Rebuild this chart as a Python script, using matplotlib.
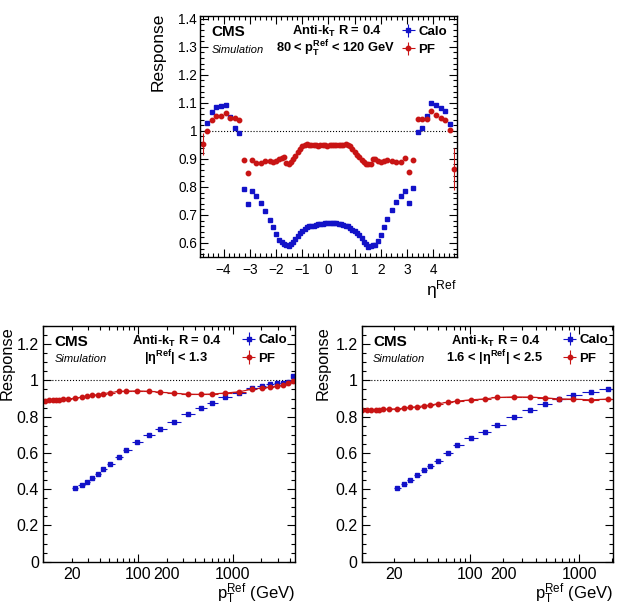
import matplotlib

matplotlib.use("Agg")

import matplotlib.pyplot as plt
import numpy as np
from matplotlib.ticker import FixedLocator, FuncFormatter, LogLocator, MultipleLocator

plt.rcParams["font.family"] = ["Liberation Sans", "DejaVu Sans"]
plt.rcParams["mathtext.fontset"] = "custom"
plt.rcParams["mathtext.rm"] = "Liberation Sans"
plt.rcParams["mathtext.it"] = "Liberation Sans:italic"
plt.rcParams["mathtext.bf"] = "Liberation Sans:bold"

BLUE = "#1212c8"
RED = "#c81414"

# ---- eta scan, 80 < pT < 120 GeV ----
eta_half = [0.044, 0.131, 0.218, 0.305, 0.392, 0.479, 0.566, 0.653, 0.740,
            0.827, 0.914, 1.001, 1.088, 1.175, 1.262, 1.349, 1.436, 1.523,
            1.610, 1.697, 1.785, 1.880, 1.987, 2.108, 2.247, 2.411, 2.575,
            2.752, 2.909, 3.052, 3.227, 3.402, 3.577, 3.752, 3.926, 4.102,
            4.277, 4.450, 4.627]
eta = [-e for e in reversed(eta_half)] + eta_half

calo_eta = [1.027, 1.069, 1.085, 1.087, 1.093, 1.049, 1.012, 0.993,
            0.794, 0.739, 0.785, 0.767, 0.741, 0.713, 0.682, 0.656, 0.632,
            0.612, 0.602, 0.598, 0.591, 0.588,
            0.596, 0.603, 0.613, 0.624, 0.634, 0.644, 0.651, 0.657, 0.660,
            0.661, 0.662, 0.665, 0.667, 0.668, 0.669, 0.670, 0.671,
            0.672, 0.673, 0.672, 0.670, 0.668, 0.666, 0.664, 0.662, 0.659,
            0.654, 0.648, 0.643, 0.636, 0.627, 0.616, 0.605, 0.595,
            0.587, 0.590, 0.594, 0.593, 0.606, 0.628, 0.657, 0.687, 0.717,
            0.745, 0.768, 0.785, 0.741, 0.795,
            0.996, 1.009, 1.052, 1.100, 1.092, 1.082, 1.071, 1.024]

pf_eta = [0.998, 1.038, 1.054, 1.054, 1.064, 1.047, 1.045, 1.039,
          0.896, 0.849, 0.895, 0.886, 0.886, 0.893, 0.891, 0.888, 0.892,
          0.898, 0.904, 0.906, 0.884, 0.882,
          0.890, 0.899, 0.910, 0.925, 0.937, 0.945, 0.950, 0.952, 0.951,
          0.948, 0.948, 0.948, 0.947, 0.949, 0.948, 0.948, 0.947,
          0.948, 0.950, 0.949, 0.950, 0.950, 0.951, 0.951, 0.952, 0.950,
          0.945, 0.936, 0.926, 0.915, 0.905, 0.897, 0.890, 0.883,
          0.880, 0.882, 0.900, 0.898, 0.892, 0.890, 0.894, 0.895, 0.893,
          0.890, 0.888, 0.904, 0.853, 0.896,
          1.044, 1.044, 1.044, 1.071, 1.056, 1.047, 1.038, 1.004]

eta_edge = [-4.80, 4.80]
pf_edge = [0.953, 0.865]
pf_edge_err = [0.04, 0.075]

# ---- pT scan, |eta| < 1.3 ----
pt_pf_low_c = [10.6, 11.6, 12.6, 13.7, 14.8, 16.3, 18.5]
pf_low_c = [0.889, 0.890, 0.891, 0.892, 0.893, 0.895, 0.898]
pt_c = [21.8, 25.6, 29.3, 33.2, 38.2, 43.0, 51.3, 63.5, 75.5, 98.5, 132,
        172, 240, 339, 459, 608, 818, 1150, 1610, 2025, 2480, 2900, 3400,
        3850, 4340]
calo_c = [0.405, 0.423, 0.442, 0.464, 0.485, 0.509, 0.539, 0.580, 0.617,
          0.659, 0.697, 0.733, 0.773, 0.814, 0.847, 0.878, 0.907, 0.933,
          0.957, 0.970, 0.978, 0.983, 0.988, 0.993, 1.025]
pf_c = [0.902, 0.907, 0.912, 0.917, 0.922, 0.927, 0.933, 0.939, 0.941,
        0.942, 0.940, 0.935, 0.929, 0.924, 0.923, 0.925, 0.930, 0.937,
        0.952, 0.958, 0.963, 0.968, 0.974, 0.984, 0.998]

# ---- pT scan, 1.6 < |eta| < 2.5 ----
pt_pf_low_e = [10.1, 11.2, 12.2, 13.4, 14.4, 15.7, 17.8]
pf_low_e = [0.834, 0.836, 0.837, 0.838, 0.838, 0.840, 0.842]
pt_e = [21.2, 24.4, 28.1, 32.4, 37.4, 42.5, 50.0, 62.5, 75.9, 100.6, 135,
        176, 251, 351, 482, 650, 881, 1283, 1828]
calo_e = [0.405, 0.431, 0.449, 0.477, 0.505, 0.530, 0.558, 0.602, 0.641,
          0.681, 0.718, 0.755, 0.797, 0.839, 0.871, 0.898, 0.917, 0.935,
          0.955]
pf_e = [0.843, 0.847, 0.851, 0.855, 0.860, 0.864, 0.871, 0.880, 0.886,
        0.893, 0.898, 0.906, 0.909, 0.908, 0.904, 0.898, 0.897, 0.893,
        0.897]


def bin_halfwidths(pt):
    # half bin widths from geometric midpoints between neighbouring bins
    pt = np.asarray(pt, dtype=float)
    mids = np.sqrt(pt[:-1] * pt[1:])
    lo = np.concatenate([[pt[0] ** 2 / mids[0]], mids])
    hi = np.concatenate([mids, [pt[-1] ** 2 / mids[-1]]])
    return [pt - lo, hi - pt]


def style_axes(ax, labelsize):
    ax.tick_params(which="both", direction="in", top=True, right=True,
                   labelsize=labelsize, width=0.8)
    ax.tick_params(which="major", length=6)
    ax.tick_params(which="minor", length=3)
    for spine in ax.spines.values():
        spine.set_linewidth(1.0)


def add_header(ax, line2):
    ax.text(0.045, 0.932, "CMS", transform=ax.transAxes, fontsize=11,
            fontweight="bold", va="center")
    ax.text(0.045, 0.858, "Simulation", transform=ax.transAxes, fontsize=8,
            style="italic", va="center")
    ax.text(0.532, 0.935, r"Anti-k$_\mathbf{T}$ R = 0.4",
            transform=ax.transAxes, fontsize=9.3, fontweight="bold",
            ha="center", va="center")
    ax.text(0.528, 0.862, line2, transform=ax.transAxes, fontsize=9.3,
            fontweight="bold", ha="center", va="center")


def add_legend(ax, handles, legend_x, legend_y):
    ax.legend(handles=handles, loc="upper left",
              bbox_to_anchor=(legend_x, legend_y), frameon=False,
              prop={"weight": "bold", "size": 9.5}, handlelength=1.0,
              handletextpad=0.25, labelspacing=0.45, borderaxespad=0,
              borderpad=0)


fig = plt.figure(figsize=(6.26, 6.12), dpi=100)

# top: response vs eta
ax = fig.add_axes([0.3195, 0.5801, 0.4105, 0.3938])
ax.axhline(1.0, color="black", linestyle=":", linewidth=0.8)
h_calo = ax.errorbar(eta, calo_eta, xerr=0.0, yerr=0.0, fmt="s", ms=3.2,
                     color=BLUE, elinewidth=0.8, label="Calo")
h_pf = ax.errorbar(eta, pf_eta, xerr=0.0, yerr=0.0, fmt="o", ms=3.2,
                   color=RED, elinewidth=0.8, label="PF")
ax.errorbar(eta_edge, pf_edge, yerr=pf_edge_err, fmt="o", ms=3.2,
            color=RED, elinewidth=0.8)
ax.set_xlim(-4.9, 4.9)
ax.set_ylim(0.55, 1.41)
ax.xaxis.set_major_locator(MultipleLocator(1))
ax.xaxis.set_minor_locator(MultipleLocator(0.2))
ax.yaxis.set_major_locator(MultipleLocator(0.1))
ax.yaxis.set_minor_locator(MultipleLocator(0.02))
ax.yaxis.set_major_formatter(FuncFormatter(lambda v, p: f"{v:g}"))
style_axes(ax, 9.8)
ax.tick_params(axis="y", pad=2)
ax.tick_params(axis="x", pad=4)
ax.set_ylabel("Response", loc="top", fontsize=12.5)
ax.yaxis.set_label_coords(-0.132, 1.012)
ax.set_xlabel(r"η$^\mathrm{Ref}$", loc="right", fontsize=12.5)
ax.xaxis.set_label_coords(1.0, -0.088)
add_header(ax, r"80 < p$_\mathbf{T}^\mathbf{Ref}$ < 120 GeV")
add_legend(ax, [h_calo, h_pf], 0.785, 0.96)


def pt_label(v, pos):
    for shown in (20, 100, 200, 1000):
        if np.isclose(v, shown):
            return f"{shown}"
    return ""


def pt_panel(rect, pt, calo, pt_low, pf_low, pf, xmax, line2, legend_x,
             ylabel_x):
    ax = fig.add_axes(rect)
    ax.axhline(1.0, color="black", linestyle=":", linewidth=0.8)
    pt_pf = list(pt_low) + list(pt)
    pf_all = list(pf_low) + list(pf)
    ax.plot(pt_pf, pf_all, color=RED, linewidth=0.8)
    h_calo = ax.errorbar(pt, calo, xerr=bin_halfwidths(pt), yerr=0.0,
                         fmt="s", ms=3.2, color=BLUE, elinewidth=0.8,
                         label="Calo")
    h_pf = ax.errorbar(pt_pf, pf_all, xerr=bin_halfwidths(pt_pf), yerr=0.0,
                       fmt="o", ms=3.2, color=RED, elinewidth=0.8,
                       label="PF")
    ax.set_xscale("log")
    ax.set_xlim(10, xmax)
    ax.set_ylim(0, 1.3)
    ax.xaxis.set_major_locator(FixedLocator([10, 100, 1000]))
    ax.xaxis.set_minor_locator(LogLocator(base=10, subs=np.arange(2, 10)))
    ax.xaxis.set_major_formatter(FuncFormatter(pt_label))
    ax.xaxis.set_minor_formatter(FuncFormatter(pt_label))
    ax.yaxis.set_major_locator(MultipleLocator(0.2))
    ax.yaxis.set_minor_locator(MultipleLocator(0.05))
    ax.yaxis.set_major_formatter(FuncFormatter(lambda v, p: f"{v:g}"))
    style_axes(ax, 11.5)
    ax.tick_params(axis="y", pad=3)
    ax.tick_params(axis="x", which="both", pad=4)
    ax.set_ylabel("Response", loc="top", fontsize=11.8)
    ax.yaxis.set_label_coords(ylabel_x, 1.0)
    ax.set_xlabel(r"p$_\mathrm{T}^\mathrm{Ref}$ (GeV)", loc="right",
                  fontsize=12)
    ax.xaxis.set_label_coords(1.0, -0.085)
    add_header(ax, line2)
    add_legend(ax, [h_calo, h_pf], legend_x, 0.965)
    return ax


pt_panel([0.0687, 0.0822, 0.4026, 0.3851], pt_c, calo_c, pt_pf_low_c,
         pf_low_c, pf_c, 4520, r"|η$^\mathbf{Ref}$| < 1.3", 0.79, -0.112)
pt_panel([0.5778, 0.0822, 0.4019, 0.3851], pt_e, calo_e, pt_pf_low_e,
         pf_low_e, pf_e, 2060, r"1.6 < |η$^\mathbf{Ref}$| < 2.5", 0.80,
         -0.124)

fig.savefig("out.png", dpi=100)
plt.close(fig)
